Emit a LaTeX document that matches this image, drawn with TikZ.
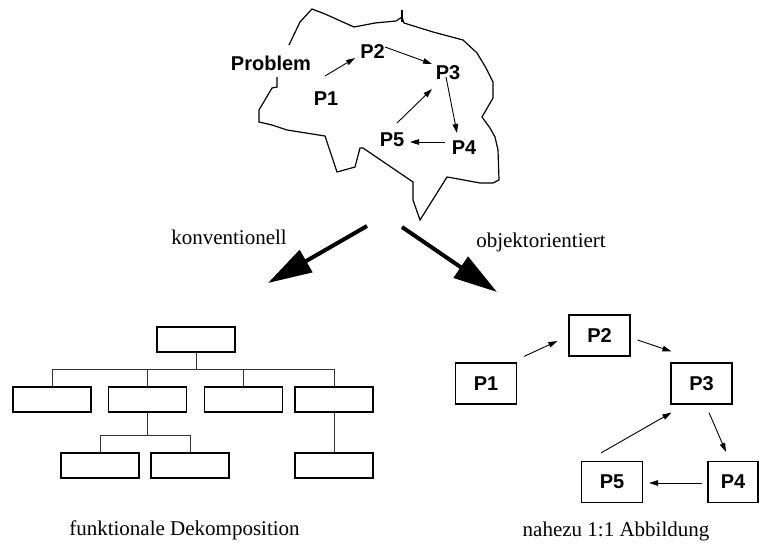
\documentclass[tikz,border=0pt]{standalone}
\usepackage{fontspec}
\setmainfont{Liberation Serif}
\newfontfamily\headfont{Liberation Sans}
\usetikzlibrary{arrows.meta,calc}

\begin{document}
\begin{tikzpicture}[x=1pt,y=-1pt,
  plabel/.style={font=\headfont\bfseries\fontsize{20}{23}\selectfont, inner sep=0pt},
  caption/.style={font=\fontsize{21}{24}\selectfont, inner sep=0pt},
  pbox/.style={draw, line width=1.2pt, minimum width=61pt, minimum height=41pt,
    inner sep=0pt, font=\headfont\bfseries\fontsize{20}{23}\selectfont},
  tbox/.style={draw, line width=1.3pt, minimum width=78pt, minimum height=25pt, inner sep=0pt},
  thinarrow/.style={line width=0.9pt, -{Triangle[length=9pt,width=5.5pt]}},
  bigarrow/.style={line width=4pt, -{Triangle[length=44pt,width=25pt]}},
  treeline/.style={line width=1pt, draw=black!80},
  outline/.style={line width=1.2pt, line join=miter}
]
\useasboundingbox (0,0) rectangle (759,544);

% --- problem cloud ---
\draw[outline] (289,45) -- (300,22) -- (312,9) -- (325,14) -- (354,27) -- (375,23)
  -- (396,21) -- (402,17) -- (404,23) -- (433,32) -- (463,40) -- (477,53) -- (486,68)
  -- (493,82) -- (493,98) -- (482,117) -- (490,128) -- (495,137) -- (498,150)
  -- (499,180) -- (493,183) -- (480,183) -- (453,178) -- (447,177) -- (437,193)
  -- (420,220) -- (413,200) -- (413,182) -- (363,148) -- (360,148) -- (355,167)
  -- (337,172) -- (325,136) -- (287,130) -- (272,125) -- (259,122) -- (259,110)
  -- (272,88) -- (277,87) -- (277,77);
\draw[outline] (402,10) -- (402,22);

\node[plabel] (cproblem) at (271,63) {Problem};
\node[plabel] (c1) at (326,99) {P1};
\node[plabel] (c2) at (372.5,52) {P2};
\node[plabel] (c3) at (448,73) {P3};
\node[plabel] (c4) at (464,148) {P4};
\node[plabel] (c5) at (392,140) {P5};

\draw[thinarrow] ($(c1)+(-1,-23)$) -- ($(c2)+(-17.5,6)$);
\draw[thinarrow] ($(c2)+(12.5,-5)$) -- ($(c3)+(-16,-9)$);
\draw[thinarrow] ($(c3)+(-2,4)$) -- ($(c4)+(-7,-15)$);
\draw[thinarrow] ($(c5)+(5,-17)$) -- ($(c3)+(-16,16)$);
\draw[thinarrow] ($(c4)+(-19,-6)$) -- ($(c5)+(18,2)$);

% --- the two ways of decomposing ---
\coordinate (kstart) at (367,226);
\coordinate (kend) at (268,283);
\coordinate (ostart) at (402,227);
\coordinate (oend) at (497,292);
\draw[bigarrow] (kstart) -- (kend);
\draw[bigarrow] (ostart) -- (oend);

\node[caption] (konv) at (229,237) {konventionell};
\node[caption] (objekt) at (541,242) {objektorientiert};

% --- functional decomposition tree ---
\node[tbox] (root) at (196,339.5) {};
\node[tbox] (a1) at (52,399.5) {};
\node[tbox] (a2) at (147.5,399.5) {};
\node[tbox] (a3) at (243.5,399.5) {};
\node[tbox] (a4) at (334,399.5) {};
\node[tbox] (b1) at (100,465.5) {};
\node[tbox] (b2) at (190,465.5) {};
\node[tbox] (b3) at (334,465.5) {};
\coordinate (bus1) at (196,369);
\coordinate (bus2) at (147.5,435);

\draw[treeline] (root.south) -- (root.south |- bus1);
\draw[treeline] (a1.north) |- (a4.north |- bus1) -- (a4.north);
\draw[treeline] (a2.north) -- (a2.north |- bus1);
\draw[treeline] (a3.north) -- (a3.north |- bus1);
\draw[treeline] (a2.south) -- (a2.south |- bus2);
\draw[treeline] (b1.north) |- (b2.north |- bus2) -- (b2.north);
\draw[treeline] (a4.south) -- (b3.north);

\node[caption] (fdek) at (184.5,530) {funktionale Dekomposition};

% --- object oriented mapping ---
\node[pbox] (p1) at (486,383.5) {P1};
\node[pbox] (p2) at (599.5,335.5) {P2};
\node[pbox] (p3) at (701.5,383.5) {P3};
\node[pbox] (p5) at (612,482) {P5};
\node[pbox, minimum width=50pt] (p4) at (733,482) {P4};

\draw[thinarrow] ($(p1.north east)+(7,-6)$) -- ($(p2.west)+(-11,5.5)$);
\draw[thinarrow] ($(p2.east)+(7,4.5)$) -- ($(p3.north west)+(1,-11)$);
\draw[thinarrow] ($(p3.south)+(7.5,8)$) -- ($(p4.north)+(-7,-9)$);
\draw[thinarrow] ($(p5.north)+(-11,-8)$) -- ($(p3.south west)+(1,8)$);
\draw[thinarrow] ($(p4.west)+(-5,1)$) -- ($(p5.east)+(6,1)$);

\node[caption] (abb) at (616,531) {nahezu 1:1 Abbildung};
\end{tikzpicture}
\end{document}
